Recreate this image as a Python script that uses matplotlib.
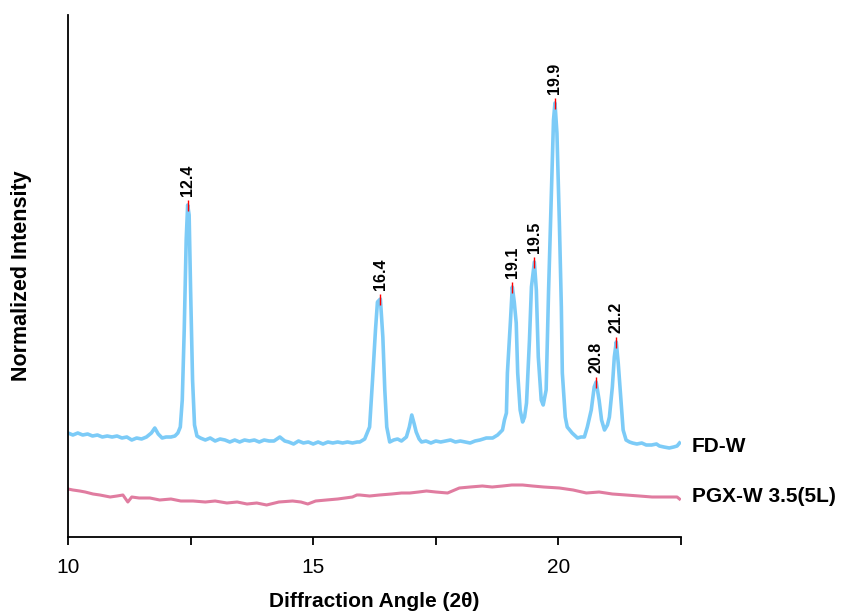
"""XRD patterns: FD-W vs PGX-W 3.5(5L)."""
import numpy as np
import matplotlib; matplotlib.use("Agg"); import matplotlib.pyplot as plt
plt.rcParams["font.family"] = ["Liberation Sans", "DejaVu Sans"]

# FD-W trace (2theta, intensity, arbitrary units)
fd_x = [10.00,10.10,10.20,10.30,10.40,10.50,10.60,10.70,10.80,10.90,11.00,11.10,11.20,11.30,11.40,11.50,11.60,11.70,11.77,11.84,
        11.92,12.00,12.10,12.18,12.24,12.29,12.33,12.37,12.41,12.44,12.47,12.50,12.54,12.58,12.63,12.70,12.80,12.90,13.00,13.10,
        13.20,13.30,13.40,13.50,13.60,13.70,13.80,13.90,14.00,14.10,14.20,14.32,14.42,14.50,14.60,14.70,14.80,14.90,15.00,15.10,
        15.20,15.30,15.40,15.50,15.60,15.70,15.80,15.90,15.95,16.05,16.15,16.21,16.27,16.31,16.37,16.42,16.46,16.50,16.56,16.64,
        16.72,16.80,16.90,16.96,17.01,17.06,17.10,17.16,17.21,17.30,17.40,17.50,17.60,17.70,17.80,17.90,18.00,18.10,18.20,18.30,
        18.40,18.53,18.66,18.76,18.86,18.90,18.94,18.96,19.02,19.06,19.10,19.14,19.17,19.22,19.27,19.31,19.35,19.41,19.45,19.51,
        19.55,19.59,19.65,19.69,19.75,19.80,19.86,19.90,19.93,19.97,20.02,20.06,20.08,20.14,20.18,20.28,20.39,20.46,20.53,20.59,
        20.67,20.73,20.77,20.83,20.88,20.94,21.00,21.04,21.10,21.14,21.18,21.22,21.28,21.32,21.38,21.45,21.51,21.60,21.70,21.79,
        21.90,22.00,22.06,22.15,22.26,22.35,22.42,22.47]
fd_y = [104,102,104,102,103,101,102,100,101,100,101,99,100,97,99,98,100,104,109,103,
        99,100,100,101,104,110,137,207,297,332,322,247,157,112,101,99,97,99,96,98,
        97,95,97,95,97,96,97,95,97,96,96,100,96,95,93,96,94,95,93,95,
        93,95,94,95,94,95,94,95,95,98,110,157,207,235,238,200,147,110,95,97,
        98,96,100,110,122,113,105,98,95,96,94,96,95,96,97,95,96,95,94,96,
        97,99,99,102,107,117,124,164,214,250,235,214,164,127,115,120,134,197,250,275,
        247,180,137,132,147,247,347,417,434,404,314,230,164,120,110,104,99,100,100,110,
        127,150,155,137,117,107,112,120,150,180,195,174,134,107,97,95,94,93,94,92,
        92,93,91,90,89,90,91,94]

# PGX-W 3.5(5L) trace
pg_x = [10.00,10.10,10.24,10.35,10.51,10.65,10.86,11.00,11.12,11.22,11.30,11.45,11.67,11.87,12.10,12.30,12.55,12.80,13.00,13.24,
        13.45,13.65,13.85,14.05,14.30,14.58,14.75,14.89,15.05,15.27,15.50,15.80,15.89,15.95,16.15,16.35,16.60,16.80,16.97,17.15,
        17.31,17.50,17.74,17.98,18.20,18.45,18.65,18.86,19.05,19.27,19.47,19.70,20.02,20.30,20.57,20.83,21.10,21.38,21.65,21.91,
        22.20,22.42,22.47]
pg_y = [48,47,46,45,43,42,40,41,42,35,40,39,39,37,38,36,36,35,36,34,
        35,33,34,32,35,36,35,33,36,37,38,40,42,42,41,42,43,44,44,45,
        46,45,44,49,50,51,50,51,52,52,51,50,49,47,44,45,43,42,41,40,
        40,40,38]

# labelled peaks
peak_x = [12.44, 16.37, 19.06, 19.51, 19.93, 20.77, 21.18]
peak_y = [332, 238, 250, 275, 434, 155, 195]
peak_lbl = ["12.4", "16.4", "19.1", "19.5", "19.9", "20.8", "21.2"]

fig = plt.figure(figsize=(8.44, 6.11), dpi=100)
ax = fig.add_axes([68/844, 1-537/611, 613/844, 522/611])
ax.plot(fd_x, fd_y, color="#7ccbf7", lw=2.6, solid_joinstyle="round")
ax.plot(pg_x, pg_y, color="#e07ca0", lw=2.2, solid_joinstyle="round")
ax.vlines(peak_x, np.array(peak_y)-6, np.array(peak_y)+5, color="red", lw=1.0, zorder=5)
for x, y, s in zip(peak_x, peak_y, peak_lbl):
    ax.annotate(s, (x, y+5), xytext=(0, 3), textcoords="offset points", rotation=90,
                ha="center", va="bottom", fontsize=11.5, fontweight="bold")
ax.text(22.72, fd_y[-1]-3, "FD-W", fontsize=15, fontweight="bold", va="center", ha="left", clip_on=False)
ax.text(22.72, pg_y[-1]+2, "PGX-W 3.5(5L)", fontsize=15, fontweight="bold", va="center", ha="left", clip_on=False)

ax.set_xlim(10, 22.5); ax.set_ylim(0, 522)
ax.set_xticks(np.arange(10, 22.6, 2.5))
ax.set_xticklabels(["10", "", "15", "", "20", ""], fontsize=15)
ax.set_yticks([])
ax.tick_params(axis="x", length=6, width=1.3, pad=9)
for s in ["top", "right"]: ax.spines[s].set_visible(False)
for s in ["left", "bottom"]: ax.spines[s].set_linewidth(1.3)
ax.set_xlabel("Diffraction Angle (2θ)", fontsize=15, fontweight="bold", labelpad=11)
ax.set_ylabel("Normalized Intensity", fontsize=15.5, fontweight="bold", labelpad=26)
fig.savefig("out.png", dpi=100)
